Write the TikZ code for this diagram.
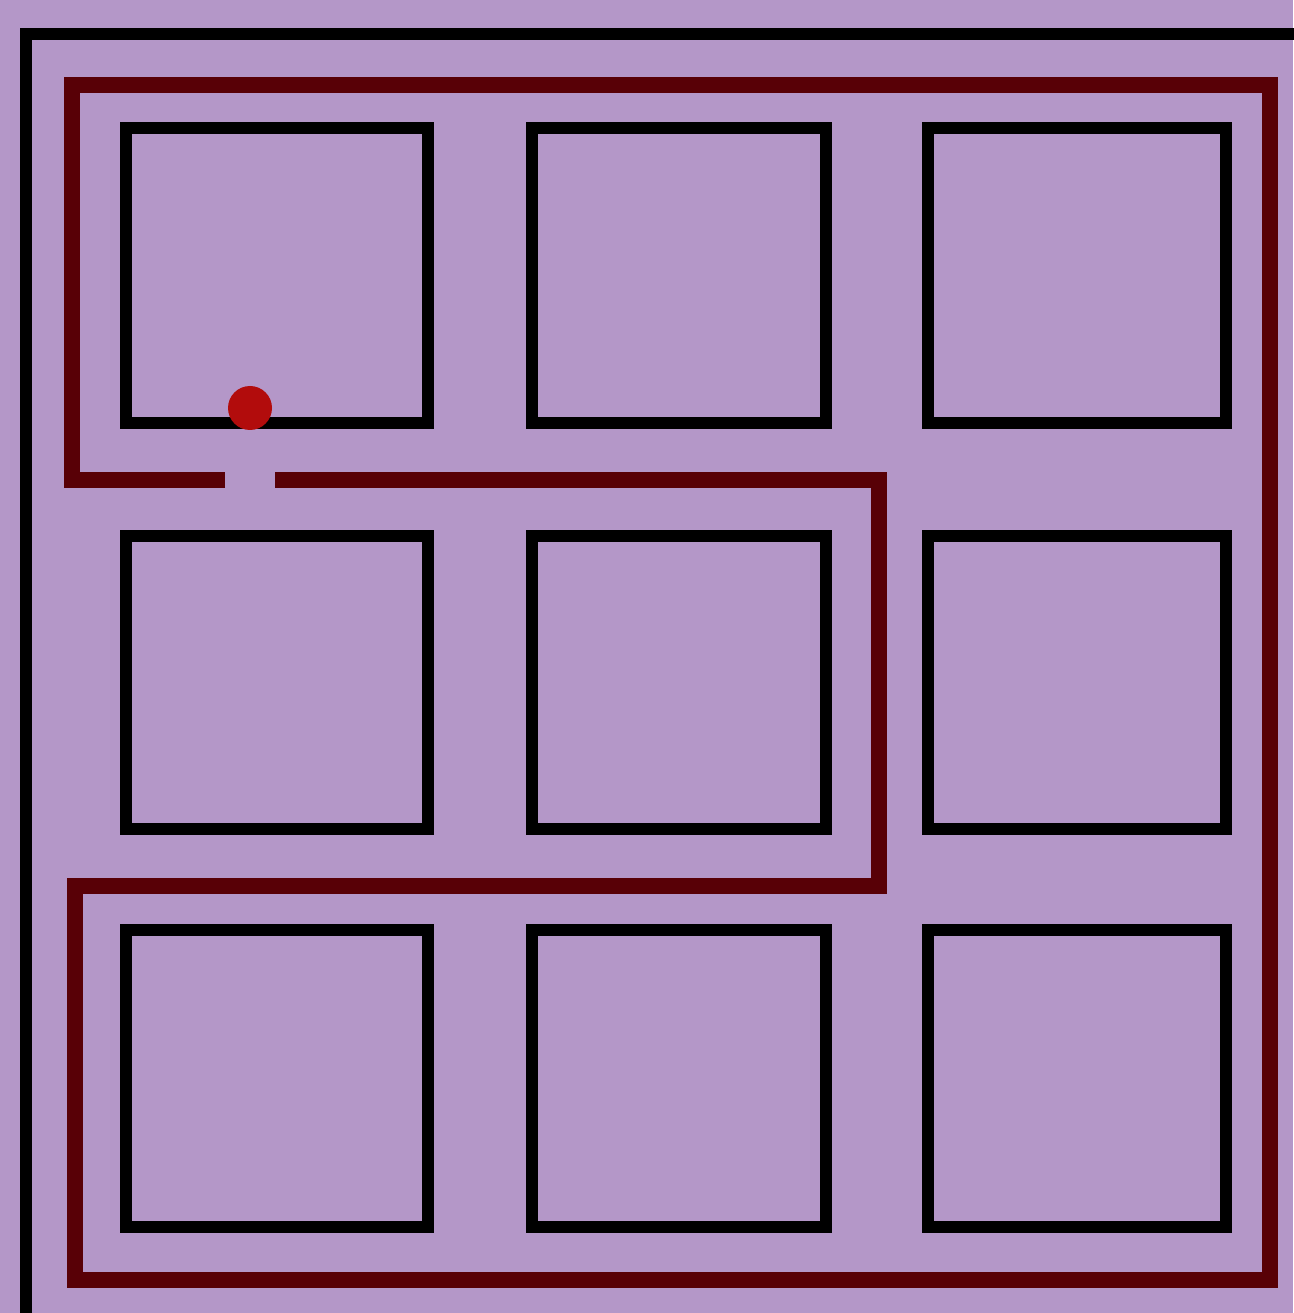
\documentclass[tikz,border=0pt]{standalone}
\definecolor{bgl}{RGB}{180,151,200}
\definecolor{pathred}{RGB}{88,0,6}
\definecolor{dotred}{RGB}{178,12,12}
\tikzset{
  block/.style={draw=black, line width=3.4pt, line join=miter},
  frame/.style={draw=black, line width=3.3pt, line join=miter},
  route/.style={draw=pathred, line width=4.8pt, line join=miter},
}
\begin{document}
\begin{tikzpicture}[x=0.01cm,y=-0.01cm]
\useasboundingbox (0,0) rectangle (1293,1313);
\fill[bgl] (0,0) rectangle (1293,1313);
% outer frame
\draw[frame] (26,1320) -- (26,34) -- (1300,34);
% blocks
\foreach \xa/\xb in {126/428,532/826,928/1226}{
  \foreach \ya/\yb in {128/423,536/829,930/1227}{
    \draw[block] (\xa,\ya) rectangle (\xb,\yb);
  }
}
% route
\draw[route] (225,480) -- (72,480) -- (72,85) -- (1270,85) -- (1270,1280)
  -- (75,1280) -- (75,886) -- (879,886) -- (879,480) -- (275,480);
% robot
\fill[dotred] (250,408) circle (22);
\end{tikzpicture}
\end{document}
